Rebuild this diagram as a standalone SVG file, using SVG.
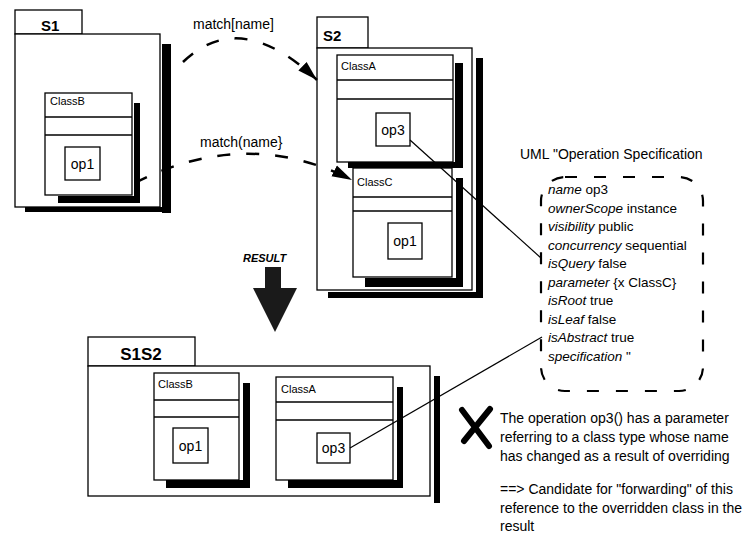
<svg xmlns="http://www.w3.org/2000/svg" width="754" height="541" viewBox="0 0 754 541">
<style>
  .box{fill:#fff;stroke:#000;stroke-width:1.3}
  .sh{fill:#000}
  .sep{stroke:#000;stroke-width:1.3}
  text{font-family:"Liberation Sans",Arial,Helvetica,sans-serif;fill:#000}
  .pkg{font-size:15px;font-weight:bold}
  .cn{font-size:11px}
  .op{font-size:14px;text-anchor:middle}
  .lab{font-size:14px}
  .spec{font-size:13.5px}
  .spec tspan.k{font-style:italic}
  .note{font-size:14px}
  .dash{fill:none;stroke:#000;stroke-width:2.5;stroke-dasharray:13 16}
  .conn{fill:none;stroke:#000;stroke-width:1.2}
</style>
<defs>
  <marker id="ah" markerUnits="userSpaceOnUse" markerWidth="22" markerHeight="14" refX="20" refY="7" orient="auto">
    <path d="M0,1 L20,7 L0,13 z" fill="#000"/>
  </marker>
</defs>
<rect width="754" height="541" fill="#fff"/>

<g id="S1">
  <rect class="sh" x="162" y="44" width="9" height="169"/>
  <rect class="sh" x="25" y="207" width="146" height="5"/>
  <rect class="box" x="15" y="10" width="67" height="24"/>
  <rect class="box" x="15" y="34" width="145" height="173"/>
  <text class="pkg" x="41" y="31">S1</text>
  <g id="S1_ClassB">
    <rect class="sh" x="134" y="103" width="6" height="100"/>
    <rect class="sh" x="58" y="196" width="82" height="7"/>
    <rect class="box" x="45" y="93" width="87" height="102"/>
    <line class="sep" x1="45" y1="117" x2="132" y2="117"/>
    <line class="sep" x1="45" y1="135" x2="132" y2="135"/>
    <text class="cn" x="50" y="105">ClassB</text>
    <rect class="box" x="65" y="147" width="35" height="33"/>
    <text class="op" x="82.5" y="169">op1</text>
  </g>
</g>

<g id="S2">
  <rect class="sh" x="476" y="58" width="7" height="240"/>
  <rect class="sh" x="328" y="292" width="155" height="6"/>
  <rect class="box" x="317" y="17" width="51" height="31"/>
  <rect class="box" x="317" y="48" width="155" height="242"/>
  <text class="pkg" x="323" y="41">S2</text>
  <g id="S2_ClassA">
    <rect class="sh" x="455" y="63" width="8" height="105"/>
    <rect class="sh" x="348" y="162" width="115" height="6"/>
    <rect class="box" x="337" y="55" width="116" height="107"/>
    <line class="sep" x1="337" y1="80" x2="453" y2="80"/>
    <line class="sep" x1="337" y1="99" x2="453" y2="99"/>
    <text class="cn" x="341" y="70">ClassA</text>
    <rect class="box" x="376" y="113" width="34" height="33"/>
    <text class="op" x="393" y="135">op3</text>
  </g>
  <g id="S2_ClassC">
    <rect class="sh" x="456" y="178" width="7" height="109"/>
    <rect class="sh" x="365" y="278" width="98" height="9"/>
    <rect class="box" x="353" y="168" width="99" height="109"/>
    <line class="sep" x1="353" y1="197" x2="452" y2="197"/>
    <line class="sep" x1="353" y1="211" x2="452" y2="211"/>
    <text class="cn" x="357" y="186">ClassC</text>
    <rect class="box" x="388" y="223" width="34" height="36"/>
    <text class="op" x="405" y="246">op1</text>
  </g>
</g>

<g id="S1S2">
  <rect class="sh" x="434" y="376" width="6" height="127"/>
  <rect class="box" x="88" y="337" width="107" height="29"/>
  <rect class="box" x="88" y="366" width="342" height="130"/>
  <text class="pkg" x="141" y="360" style="font-size:17px;text-anchor:middle">S1S2</text>
  <g id="S1S2_ClassB">
    <rect class="sh" x="243" y="383" width="7" height="105"/>
    <rect class="sh" x="166" y="480" width="84" height="8"/>
    <rect class="box" x="154" y="373" width="85" height="107"/>
    <line class="sep" x1="154" y1="400" x2="239" y2="400"/>
    <line class="sep" x1="154" y1="417" x2="239" y2="417"/>
    <text class="cn" x="158" y="388">ClassB</text>
    <rect class="box" x="173" y="428" width="35" height="35"/>
    <text class="op" x="190.5" y="451">op1</text>
  </g>
  <g id="S1S2_ClassA">
    <rect class="sh" x="397" y="387" width="6" height="101"/>
    <rect class="sh" x="288" y="480" width="115" height="8"/>
    <rect class="box" x="276" y="377" width="117" height="103"/>
    <line class="sep" x1="276" y1="402" x2="393" y2="402"/>
    <line class="sep" x1="276" y1="420" x2="393" y2="420"/>
    <text class="cn" x="281" y="393">ClassA</text>
    <rect class="box" x="317" y="433" width="33" height="30"/>
    <text class="op" x="333.5" y="453">op3</text>
  </g>
</g>

<g id="result">
  <text x="243" y="262" style="font-size:11px;font-weight:bold;font-style:italic">RESULT</text>
  <polygon points="265,267 281,267 281,288 297,288 275,332 253,288 265,288" fill="#1a1a1a"/>
</g>

<g id="spec">
  <text class="lab" x="520" y="159">UML "Operation Specification</text>
  <rect x="541" y="177" width="162" height="214" rx="24" ry="24" fill="none" stroke="#000" stroke-width="2.2" stroke-dasharray="12 17"/>
  <text class="spec" x="548" y="194"><tspan class="k">name</tspan> op3</text>
  <text class="spec" x="548" y="213"><tspan class="k">ownerScope</tspan>  instance</text>
  <text class="spec" x="548" y="231"><tspan class="k">visibility</tspan> public</text>
  <text class="spec" x="548" y="250"><tspan class="k">concurrency</tspan>  sequential</text>
  <text class="spec" x="548" y="268"><tspan class="k">isQuery</tspan> false</text>
  <text class="spec" x="548" y="287"><tspan class="k">parameter</tspan> {x ClassC}</text>
  <text class="spec" x="548" y="305"><tspan class="k">isRoot</tspan> true</text>
  <text class="spec" x="548" y="324"><tspan class="k">isLeaf</tspan> false</text>
  <text class="spec" x="548" y="342"><tspan class="k">isAbstract</tspan> true</text>
  <text class="spec" x="548" y="361"><tspan class="k">specification</tspan> "</text>
</g>

<g id="connectors">
  <path class="dash" d="M183,62 Q240,7 317,80" marker-end="url(#ah)"/>
  <text class="lab" x="193" y="29">match[name]</text>
  <path class="dash" d="M135,183 Q246,126 352,180" marker-end="url(#ah)"/>
  <text class="lab" x="200" y="147">match(name}</text>
  <line class="conn" x1="410" y1="140" x2="541" y2="258"/>
  <line class="conn" x1="350" y1="448" x2="542" y2="337"/>
</g>

<g id="note">
  <path d="M462,410 L489,446 M490,409 L464,441" stroke="#000" stroke-width="6" stroke-linecap="round" fill="none"/>
  <text class="note" x="500" y="423">The operation op3() has a parameter</text>
  <text class="note" x="500" y="442">referring to a class type whose name</text>
  <text class="note" x="500" y="461">has changed as a result of overriding</text>
  <text class="note" x="500" y="494">==&gt; Candidate for "forwarding" of this</text>
  <text class="note" x="500" y="513">reference to the overridden class in the</text>
  <text class="note" x="500" y="531">result</text>
</g>
</svg>
